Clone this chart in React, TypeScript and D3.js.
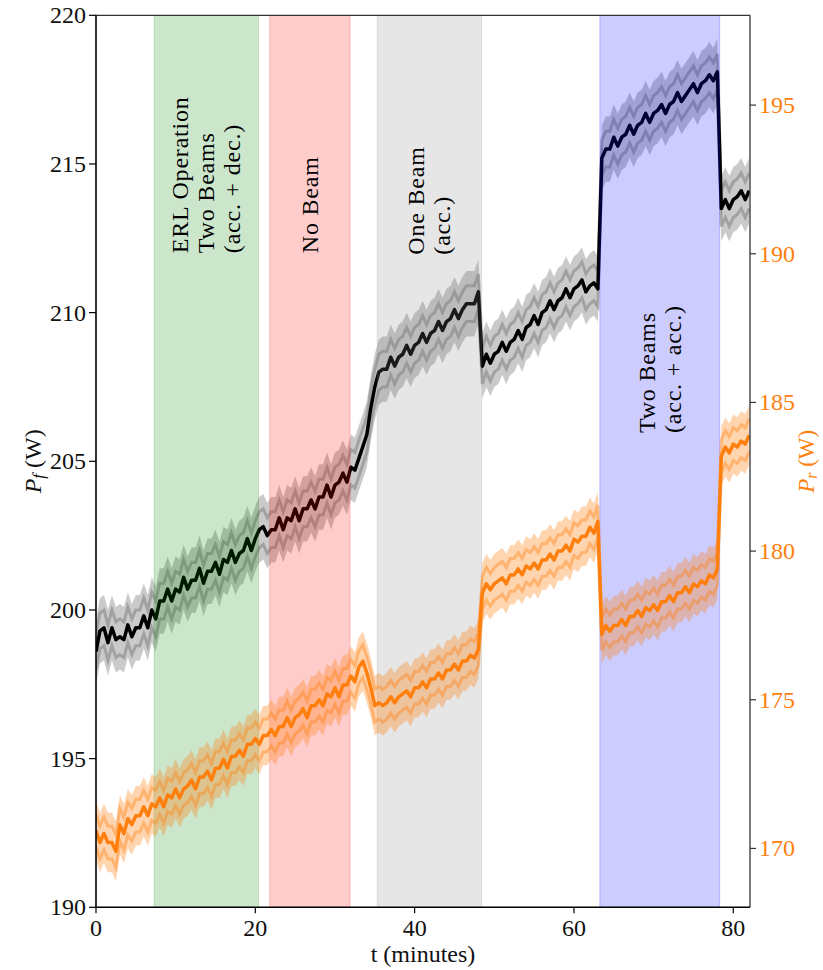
import React from "react";
import * as d3 from "d3";

// ---------- data ----------
const T_START = 0;
const T_STEP = 0.5; // minutes between samples

// forward power P_f (W), left axis
const pfValues = [
  198.6, 199.3, 199.4, 198.9, 199.4, 199.0, 199.1, 199.0, 199.5, 199.1,
  199.4, 199.4, 199.8, 199.4, 200.0, 199.7, 200.3, 200.3, 200.7, 200.3,
  200.7, 200.6, 201.1, 200.7, 201.0, 201.0, 201.4, 200.9, 201.3, 201.3,
  201.6, 201.2, 201.7, 201.6, 202.0, 201.6, 201.9, 202.0, 202.4, 202.0,
  202.4, 202.7, 202.8, 202.5, 202.7, 202.7, 203.1, 202.7, 203.1, 203.0,
  203.4, 203.0, 203.4, 203.4, 203.7, 203.4, 203.8, 203.8, 204.2, 203.8,
  204.2, 204.3, 204.6, 204.3, 204.8, 204.7, 205.1, 205.5, 205.9, 206.8,
  207.5, 208.0, 208.1, 208.1, 208.5, 208.2, 208.5, 208.6, 208.9, 208.6,
  208.9, 209.0, 209.3, 209.0, 209.3, 209.4, 209.7, 209.4, 209.7, 209.8,
  210.1, 209.8, 210.1, 210.3, 210.3, 210.3, 210.7, 208.2, 208.6, 208.3,
  208.6, 208.7, 209.0, 208.7, 209.0, 209.1, 209.4, 209.1, 209.5, 209.6,
  209.9, 209.6, 210.0, 210.1, 210.4, 210.1, 210.4, 210.5, 210.8, 210.5,
  210.8, 210.9, 211.1, 210.7, 210.9, 211.0, 210.8, 215.2, 215.5, 215.5,
  215.9, 215.6, 215.9, 216.0, 216.3, 216.0, 216.3, 216.4, 216.7, 216.4,
  216.7, 216.8, 217.0, 216.7, 217.0, 217.1, 217.4, 217.1, 217.3, 217.5,
  217.7, 217.4, 217.7, 217.8, 218.0, 217.8, 218.1, 213.5, 213.8, 213.5,
  213.8, 213.9, 214.1, 213.8, 214.1,
];

// reflected power P_r (W), right axis
const prValues = [
  170.6, 170.2, 170.5, 170.2, 170.2, 169.9, 170.8, 170.5, 171.0, 170.8,
  171.1, 171.1, 171.4, 171.1, 171.5, 171.4, 171.7, 171.4, 171.8, 171.7,
  172.0, 171.7, 172.0, 172.1, 172.3, 172.0, 172.4, 172.4, 172.6, 172.3,
  172.7, 172.7, 173.0, 172.7, 173.1, 173.1, 173.3, 173.1, 173.5, 173.5,
  173.7, 173.5, 173.8, 173.8, 174.0, 173.8, 174.1, 174.1, 174.4, 174.1,
  174.4, 174.5, 174.7, 174.4, 174.8, 174.8, 175.0, 174.8, 175.2, 175.1,
  175.4, 175.1, 175.5, 175.5, 175.8, 175.6, 176.1, 176.3, 175.9, 175.4,
  174.8, 174.9, 174.8, 174.9, 175.1, 174.9, 175.1, 175.2, 175.3, 175.1,
  175.4, 175.4, 175.6, 175.4, 175.7, 175.7, 175.9, 175.7, 176.0, 176.0,
  176.2, 176.0, 176.3, 176.3, 176.5, 176.4, 176.7, 178.6, 178.9, 178.7,
  178.9, 179.0, 179.1, 178.9, 179.2, 179.2, 179.4, 179.2, 179.5, 179.4,
  179.6, 179.4, 179.7, 179.7, 179.9, 179.7, 180.0, 180.0, 180.2, 180.0,
  180.4, 180.3, 180.5, 180.5, 180.8, 180.6, 181.0, 177.2, 177.5, 177.3,
  177.5, 177.5, 177.7, 177.5, 177.8, 177.8, 178.0, 177.8, 178.1, 178.0,
  178.2, 178.0, 178.3, 178.3, 178.5, 178.3, 178.6, 178.6, 178.8, 178.6,
  178.9, 178.8, 179.0, 178.9, 179.2, 179.1, 179.4, 183.2, 183.5, 183.3,
  183.6, 183.5, 183.7, 183.6, 183.9,
];

const PF_SPREAD = 1.1; // band half width (W)
const PR_SPREAD = 1.0;

// shaded operation periods (minutes)
const spanStart = [7.3, 21.8, 35.3, 63.25];
const spanEnd = [20.4, 31.9, 48.4, 78.3];
const spanColor = ["#008000", "#ff0000", "#808080", "#0000ff"];
const spanLabels = [
  ["ERL Operation", "Two Beams", "(acc. + dec.)"],
  ["No Beam"],
  ["One Beam", "(acc.)"],
  ["Two Beams", "(acc. + acc.)"],
];
const spanLabelBase = [212.0, 212.0, 211.95, 205.95]; // P_f level where each label starts

const xTicks = [0, 20, 40, 60, 80];
const leftTicks = [190, 195, 200, 205, 210, 215, 220];
const rightTicks = [170, 175, 180, 185, 190, 195];

// ---------- layout ----------
const W = 823;
const H = 970;
const L = 96, R = 750, T = 15.3, B = 907.3;
const FONT = "'Liberation Serif', 'DejaVu Serif', serif";
const ORANGE = "#ff7f0e";

export default function App() {
  const time = pfValues.map((_, i) => T_START + i * T_STEP);
  const x = d3.scaleLinear().domain([0, 82.1]).range([L, R]);
  const yL = d3.scaleLinear().domain([190, 220]).range([B, T]);
  const yR = d3.scaleLinear().domain([168.02, 198.02]).range([B, T]);

  const pf = time.map((t, i) => ({ t, v: pfValues[i] }));
  const pr = time.map((t, i) => ({ t, v: prValues[i] }));

  const bandPath = (data, y, lo, hi) =>
    d3.area().x((d) => x(d.t)).y0((d) => y(d.v + lo)).y1((d) => y(d.v + hi))(data);
  const linePath = (data, y, off) =>
    d3.line().x((d) => x(d.t)).y((d) => y(d.v + off))(data);

  return (
    <svg width={W} height={H} style={{ position: "absolute", left: 0, top: 0, background: "#fff" }}
      fontFamily={FONT}>
      <defs>
        <clipPath id="plot"><rect x={L} y={T} width={R - L} height={B - T} /></clipPath>
      </defs>
      <g clipPath="url(#plot)">
        {/* P_f */}
        <path d={bandPath(pf, yL, -PF_SPREAD, PF_SPREAD)} fill="#808080" opacity={0.42} />
        <path d={linePath(pf, yL, 0.6)} fill="none" stroke="#808080" strokeWidth={3} opacity={0.55} />
        <path d={linePath(pf, yL, -0.6)} fill="none" stroke="#808080" strokeWidth={3} opacity={0.55} />
        <path d={linePath(pf, yL, 0)} fill="none" stroke="#000" strokeWidth={3.5} strokeLinejoin="round" />
        {/* spans */}
        {spanStart.map((s, i) => (
          <rect key={i} x={x(s)} y={T} width={x(spanEnd[i]) - x(s)} height={B - T}
            fill={spanColor[i]} fillOpacity={0.2} stroke={spanColor[i]} strokeOpacity={0.2} />
        ))}
        {/* P_r */}
        <path d={bandPath(pr, yR, -PR_SPREAD, PR_SPREAD)} fill={ORANGE} opacity={0.33} />
        <path d={linePath(pr, yR, 0.55)} fill="none" stroke={ORANGE} strokeWidth={3} opacity={0.4} />
        <path d={linePath(pr, yR, -0.55)} fill="none" stroke={ORANGE} strokeWidth={3} opacity={0.4} />
        <path d={linePath(pr, yR, 0)} fill="none" stroke={ORANGE} strokeWidth={3.5} strokeLinejoin="round" />
      </g>

      {/* span labels */}
      {spanLabels.map((lines, i) => {
        const cx = (x(spanStart[i]) + x(spanEnd[i])) / 2;
        const gap = 26;
        const y0 = yL(spanLabelBase[i]);
        return lines.map((ln, j) => {
          const lx = cx + (j - (lines.length - 1) / 2) * gap;
          return (
            <text key={i + "-" + j} transform={`translate(${lx},${y0}) rotate(-90)`}
              fontSize={24} letterSpacing={0.8} dominantBaseline="central" fill="#000">
              {ln}
            </text>
          );
        });
      })}

      {/* spines */}
      <line x1={L} x2={R} y1={T} y2={T} stroke="#333" strokeWidth={1.3} />
      <line x1={R} x2={R} y1={T} y2={B} stroke="#333" strokeWidth={1.3} />
      <line x1={L} x2={L} y1={T} y2={B} stroke="#000" strokeWidth={1.6} />
      <line x1={L} x2={R} y1={B} y2={B} stroke="#000" strokeWidth={1.6} />

      {/* x axis */}
      {xTicks.map((t) => (
        <g key={t}>
          <line x1={x(t)} x2={x(t)} y1={B} y2={B + 6} stroke="#000" strokeWidth={1.2} />
          <text x={x(t)} y={B + 29} fontSize={24} textAnchor="middle" fill="#111">{t}</text>
        </g>
      ))}
      <text x={(L + R) / 2} y={962} fontSize={24} textAnchor="middle" fill="#111">t (minutes)</text>

      {/* left axis */}
      {leftTicks.map((v) => (
        <g key={v}>
          <line x1={L - 7} x2={L} y1={yL(v)} y2={yL(v)} stroke="#000" strokeWidth={1.2} />
          <text x={L - 10} y={yL(v)} fontSize={24} textAnchor="end" dominantBaseline="central" fill="#111">{v}</text>
        </g>
      ))}
      <text transform={`translate(33,${(T + B) / 2}) rotate(-90)`} fontSize={24} textAnchor="middle"
        dominantBaseline="central" fill="#111">
        <tspan fontStyle="italic">P</tspan>
        <tspan fontStyle="italic" fontSize={17} dy={5}>f</tspan>
        <tspan dy={-5}> (W)</tspan>
      </text>

      {/* right axis */}
      {rightTicks.map((v) => (
        <g key={v}>
          <line x1={R} x2={R + 6} y1={yR(v)} y2={yR(v)} stroke="#333" strokeWidth={1.2} />
          <text x={R + 9} y={yR(v)} fontSize={24} dominantBaseline="central" fill={ORANGE}>{v}</text>
        </g>
      ))}
      <text transform={`translate(806,${(T + B) / 2}) rotate(-90)`} fontSize={23} textAnchor="middle"
        dominantBaseline="central" fill={ORANGE}>
        <tspan fontStyle="italic">P</tspan>
        <tspan fontStyle="italic" fontSize={16} dy={5}>r</tspan>
        <tspan dy={-5}> (W)</tspan>
      </text>
    </svg>
  );
}
